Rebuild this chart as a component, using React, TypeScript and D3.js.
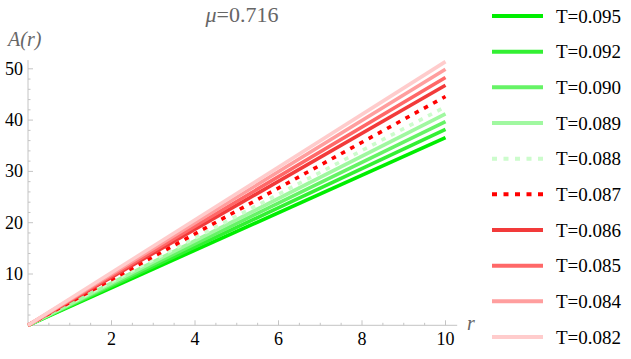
import React, { useRef, useEffect } from 'react';
import * as d3 from 'd3';

// temperatures, in legend order
const temps = ['0.095', '0.092', '0.090', '0.089', '0.088', '0.087', '0.086', '0.085', '0.084', '0.082'];
// A(r) at r = 0 and r = 10 for each temperature
const rValues = [0, 10];
const aAtEnd = [36.6, 38.2, 39.7, 41.2, 42.6, 44.6, 46.8, 48.3, 49.9, 51.4];
const colors = ['#00ee00', '#33f033', '#66f366', '#a0f8a0', '#ccfccc', '#ff0000', '#f23a3a', '#ff6868', '#ff9e9e', '#ffcccc'];
const dotted = [false, false, false, false, true, true, false, false, false, false];
const xTicks = [2, 4, 6, 8, 10];
const yTicks = [10, 20, 30, 40, 50];

const App = () => {
  const svgRef = useRef<SVGSVGElement>(null);

  useEffect(() => {
    const svg = d3.select(svgRef.current);
    svg.selectAll('*').remove();

    const font = 'Liberation Serif, Times New Roman, DejaVu Serif, serif';
    const x = d3.scaleLinear().domain([0, 10]).range([28, 445.5]);
    const y = d3.scaleLinear().domain([0, 50]).range([325.3, 68.8]);
    const axisColor = '#c4c4c4';

    // axes lines
    svg.append('line')
      .attr('x1', x(0)).attr('x2', x(10.28))
      .attr('y1', y(0)).attr('y2', y(0))
      .attr('stroke', axisColor).attr('stroke-width', 1);
    svg.append('line')
      .attr('x1', x(0)).attr('x2', x(0))
      .attr('y1', y(0)).attr('y2', y(51.7))
      .attr('stroke', axisColor).attr('stroke-width', 1);

    // x ticks (major every 2, minor every 0.5)
    const xMinor = d3.range(0.5, 10.3, 0.5).filter(v => v % 2 !== 0);
    svg.append('g').selectAll('line').data(xMinor).join('line')
      .attr('x1', d => x(d)).attr('x2', d => x(d))
      .attr('y1', y(0)).attr('y2', y(0) - 2.5)
      .attr('stroke', axisColor);
    svg.append('g').selectAll('line').data(xTicks).join('line')
      .attr('x1', d => x(d)).attr('x2', d => x(d))
      .attr('y1', y(0)).attr('y2', y(0) - 5)
      .attr('stroke', axisColor);
    svg.append('g').selectAll('text').data(xTicks).join('text')
      .attr('x', d => x(d)).attr('y', 345)
      .attr('text-anchor', 'middle')
      .attr('font-family', font).attr('font-size', 18)
      .text(d => d);

    // y ticks (major every 10, minor every 2)
    const yMinor = d3.range(2, 51.7, 2).filter(v => v % 10 !== 0);
    svg.append('g').selectAll('line').data(yMinor).join('line')
      .attr('x1', x(0)).attr('x2', x(0) + 2.5)
      .attr('y1', d => y(d)).attr('y2', d => y(d))
      .attr('stroke', axisColor);
    svg.append('g').selectAll('line').data(yTicks).join('line')
      .attr('x1', x(0)).attr('x2', x(0) + 5)
      .attr('y1', d => y(d)).attr('y2', d => y(d))
      .attr('stroke', axisColor);
    svg.append('g').selectAll('text').data(yTicks).join('text')
      .attr('x', 23).attr('y', d => y(d) + 6)
      .attr('text-anchor', 'end')
      .attr('font-family', font).attr('font-size', 18)
      .text(d => d);

    // lines, drawn in legend order
    const line = d3.line<number>()
      .x((d, i) => x(rValues[i]))
      .y(d => y(d));
    temps.forEach((t, i) => {
      svg.append('path')
        .attr('d', line([0, aAtEnd[i]]))
        .attr('fill', 'none')
        .attr('stroke', colors[i])
        .attr('stroke-width', 3.6)
        .attr('stroke-dasharray', dotted[i] ? '4.5,6' : null);
    });

    // axis labels and title
    svg.append('text')
      .attr('x', 8).attr('y', 46)
      .attr('font-family', font).attr('font-size', 20)
      .attr('font-style', 'italic').attr('fill', '#666')
      .text('A(r)');
    svg.append('text')
      .attr('x', 467).attr('y', 330)
      .attr('font-family', font).attr('font-size', 20)
      .attr('font-style', 'italic').attr('fill', '#666')
      .text('r');
    const title = svg.append('text')
      .attr('x', 242).attr('y', 22)
      .attr('text-anchor', 'middle')
      .attr('font-family', font).attr('font-size', 22)
      .attr('fill', '#666');
    title.append('tspan').attr('font-style', 'italic').text('μ');
    title.append('tspan').text('=0.716');

    // legend
    const legY = d3.scaleLinear().domain([0, 9]).range([16, 337]);
    const leg = svg.append('g');
    temps.forEach((t, i) => {
      leg.append('line')
        .attr('x1', 492).attr('x2', 543)
        .attr('y1', legY(i)).attr('y2', legY(i))
        .attr('stroke', colors[i])
        .attr('stroke-width', 4)
        .attr('stroke-dasharray', dotted[i] ? '5,6.5' : null);
      leg.append('text')
        .attr('x', 556).attr('y', legY(i) + 6.5)
        .attr('font-family', font).attr('font-size', 19)
        .text(`T=${t}`);
    });
  }, []);

  return (
    <svg ref={svgRef} width={631} height={359}
      style={{ position: 'absolute', left: 0, top: 0, background: '#fff' }} />
  );
};

export default App;
